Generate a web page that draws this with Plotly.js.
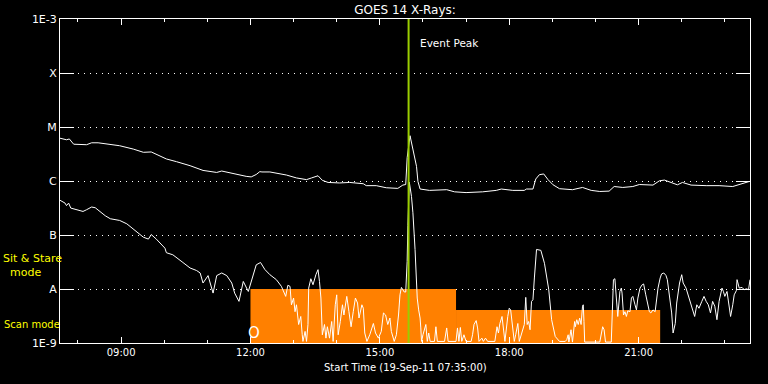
<!DOCTYPE html>
<html>
<head>
<meta charset="utf-8">
<script src="https://cdn.plot.ly/plotly-3.0.1.min.js"></script>
<style>html,body{margin:0;padding:0;background:#000;}#chart{width:768px;height:384px;}</style>
</head>
<body>
<div id="chart"></div>
<script>
var day = '2011-09-19 ';
var rangeStart = '07:35';
var rangeEnd = '23:35';

// GOES 14 long channel (1-8 A), W/m^2
var longTimes = ['07:35','07:44','07:48','07:54','08:12','08:19','08:28','08:40','08:58','09:17',
  '09:31','09:42','09:49','10:03','10:17','10:36','10:54','11:13','11:20','11:36',
  '11:54','12:01','12:08','12:13','12:16','12:27','12:36','12:50','13:04','13:18',
  '13:25','13:34','13:40','13:48','14:04','14:18','14:37','14:41','14:55','15:09',
  '15:25','15:32','15:36','15:38','15:42','15:46','15:51','15:53','15:56','16:09',
  '16:23','16:33','16:44','17:00','17:23','17:42','17:49','18:00','18:05','18:21',
  '18:24','18:33','18:37','18:42','18:48','18:54','19:01','19:10','19:28','19:42',
  '19:54','20:06','20:19','20:26','20:38','20:52','21:01','21:20','21:29','21:36',
  '21:45','21:54','22:01','22:13','22:34','22:52','23:11','23:20','23:34'];
var longFlux = [6.2e-6,5.8e-6,6.0e-6,4.8e-6,4.7e-6,5.1e-6,5.1e-6,4.8e-6,4.5e-6,3.9e-6,
  3.4e-6,3.45e-6,3.1e-6,2.56e-6,2.28e-6,1.92e-6,1.57e-6,1.44e-6,1.53e-6,1.36e-6,
  1.22e-6,1.19e-6,1.32e-6,1.49e-6,1.47e-6,1.47e-6,1.41e-6,1.29e-6,1.14e-6,1.06e-6,
  1.14e-6,1.25e-6,1.03e-6,9.4e-7,9.2e-7,9.4e-7,8.9e-7,8.2e-7,8.2e-7,7.5e-7,
  7.3e-7,8.4e-7,8.6e-7,2.7e-6,6.9e-6,4.1e-6,1.87e-6,9.8e-7,7.1e-7,6.7e-7,
  6.7e-7,6.9e-7,6.3e-7,6.1e-7,6.3e-7,6.7e-7,7.1e-7,6.8e-7,6.7e-7,6.7e-7,
  7.1e-7,7.1e-7,1.09e-6,1.31e-6,1.35e-6,1.06e-6,8.5e-7,7.2e-7,6.9e-7,7.6e-7,
  6.7e-7,6.4e-7,6.5e-7,7.9e-7,7.6e-7,7.9e-7,8.6e-7,8.4e-7,1.01e-6,1.04e-6,
  9.4e-7,8.5e-7,9.4e-7,8.4e-7,8.2e-7,8.2e-7,7.9e-7,8.5e-7,9.8e-7];

// GOES 14 short channel (0.5-4 A), W/m^2
var shortTimes = [
  '07:35','07:42','07:44','07:47','07:50','07:58','08:07','08:12','08:19','08:24',
  '08:38','08:45','08:58','09:08','09:22','09:31','09:38','09:42','09:49','09:54',
  '10:01','10:03','10:12','10:26','10:36','10:45','10:50','10:54','11:01','11:08',
  '11:13','11:20','11:27','11:34','11:38','11:44','11:50','11:57','12:04','12:08',
  '12:14','12:20','12:27','12:36','12:43','12:49','12:52','12:55','12:57','13:00',
  '13:02','13:04','13:07','13:10','13:12','13:13','13:16','13:18','13:20','13:21',
  '13:24','13:27','13:31','13:34','13:36','13:38','13:40','13:43','13:45','13:47',
  '13:50','13:53','13:55','13:58','14:00','14:02','14:05','14:08','14:10','14:14',
  '14:17','14:20','14:23','14:26','14:29','14:31','14:35','14:37','14:39','14:42',
  '14:46','14:51','14:54','14:58','15:02','15:05','15:08','15:11','15:14','15:16',
  '15:20','15:23','15:26','15:28','15:30','15:34','15:36','15:38','15:39','15:41',
  '15:44','15:46','15:49','15:51','15:52','15:54','15:56','15:57','15:58','16:00',
  '16:04','16:06','16:08','16:10','16:16','16:18','16:20','16:30','16:33','16:35','16:46','16:48',
  '16:50','16:52','16:54','16:57','17:00','17:07','17:09','17:11','17:14','17:16','17:18',
  '17:22','17:24','17:27','17:30','17:40','17:43','17:45','17:47','17:50','17:52',
  '17:54','17:58','18:00','18:02','18:05','18:07','18:09','18:12','18:14','18:18',
  '18:21','18:23','18:25','18:27','18:29','18:31','18:33','18:35','18:36','18:38',
  '18:44','18:49','18:55','18:59','19:04','19:10','19:18','19:20','19:22','19:23',
  '19:26','19:28','19:31','19:32','19:34','19:36','19:38','19:40','19:42','19:43',
  '19:44','19:45','20:06','20:08','20:10','20:12','20:14','20:22','20:24','20:25',
  '20:27','20:29','20:31','20:34','20:36','20:37','20:39','20:41','20:43','20:45',
  '20:48','20:50','20:52','20:55','20:57','20:59','21:02','21:05','21:07','21:10',
  '21:12','21:15','21:17','21:20','21:23','21:25','21:27','21:30','21:32','21:35',
  '21:38','21:40','21:43','21:46','21:48','21:51','21:53','21:57','22:00','22:02',
  '22:06','22:09','22:12','22:15','22:18','22:21','22:24','22:28','22:31','22:34',
  '22:37','22:40','22:43','22:46','22:49','22:52','22:56','22:58','23:00','23:03',
  '23:05','23:08','23:11','23:13','23:16','23:17','23:20','23:24','23:27','23:30',
  '23:33','23:35'];
var shortFlux = [
  4.4e-7,3.9e-7,3.5e-7,3.9e-7,3.15e-7,2.94e-7,2.73e-7,2.94e-7,3.3e-7,3.2e-7,
  2.27e-7,2.0e-7,1.86e-7,1.61e-7,1.16e-7,9.1e-8,8.4e-8,1.02e-7,8.4e-8,7.1e-8,
  5.7e-8,4.7e-8,4.3e-8,3.1e-8,2.45e-8,2.2e-8,1.98e-8,1.29e-8,1.77e-8,8.4e-9,
  1.77e-8,1.98e-8,1.77e-8,1.29e-8,8.4e-9,5.9e-9,1.38e-8,9.0e-9,1.98e-8,2.8e-8,
  3.1e-8,2.3e-8,1.84e-8,1.49e-8,1.12e-8,7.3e-9,1.17e-8,1.12e-8,5.1e-9,6.8e-9,
  3.8e-9,5.1e-9,2.2e-9,3.1e-9,1.42e-9,1.07e-9,1.64e-9,1.07e-9,2.2e-9,1.04e-8,
  1.55e-8,1.2e-8,1.84e-8,2.28e-8,1.38e-8,6.8e-9,1.42e-9,2.2e-9,1.23e-9,2.0e-9,
  1.23e-9,2.5e-9,1.07e-9,5.1e-9,7.8e-9,1.42e-9,2.5e-9,5.1e-9,3.3e-9,7.3e-9,
  3.8e-9,2.0e-9,3.8e-9,6.8e-9,5.5e-9,2.9e-9,5.1e-9,4.4e-9,1.53e-9,1.07e-9,
  1.42e-9,2.3e-9,1.53e-9,1.23e-9,1.64e-9,3.6e-9,3.3e-9,2.2e-9,2.9e-9,1.64e-9,
  1.07e-9,1.42e-9,3.3e-9,7.8e-9,1.07e-8,8.8e-9,8.8e-9,3.25e-8,1.5e-7,9.5e-7,
  5.2e-7,2.58e-7,5.4e-8,1.2e-8,6.8e-9,4.1e-9,2.9e-9,1.9e-9,1.07e-9,1.42e-9,
  2.2e-9,1.07e-9,1.53e-9,1.07e-9,1.07e-9,2.0e-9,1.07e-9,1.07e-9,1.9e-9,1.07e-9,1.07e-9,1.9e-9,
  1.07e-9,1.94e-9,1.07e-9,1.42e-9,1.07e-9,1.07e-9,1.42e-9,2.2e-9,2.6e-9,1.9e-9,1.07e-9,
  1.23e-9,1.07e-9,1.23e-9,1.07e-9,1.07e-9,2.0e-9,1.53e-9,2.3e-9,3.1e-9,1.76e-9,
  1.07e-9,3.1e-9,4.4e-9,4.1e-9,1.9e-9,1.07e-9,1.42e-9,2.3e-9,1.07e-9,1.64e-9,
  2.2e-9,7.0e-9,2.2e-9,2.5e-9,1.76e-9,5.9e-9,6.3e-9,1.6e-8,2.6e-8,5.4e-8,
  5.2e-8,3.0e-8,9.7e-9,2.7e-9,1.32e-9,1.07e-9,1.07e-9,1.15e-9,1.42e-9,1.04e-9,
  1.76e-9,1.04e-9,2.5e-9,2.0e-9,2.7e-9,2.2e-9,2.9e-9,2.2e-9,4.8e-9,5.1e-9,
  2.5e-9,1.04e-9,1.04e-9,1.42e-9,2.0e-9,1.76e-9,1.04e-9,1.04e-9,1.04e-8,1.49e-8,
  1.55e-8,6.8e-9,3.1e-9,9.0e-9,1.04e-8,8.4e-9,3.3e-9,3.8e-9,3.1e-9,3.95e-9,
  3.8e-9,6.8e-9,7.3e-9,5.1e-9,4.1e-9,6.8e-9,1.04e-8,1.2e-8,1.24e-8,7.8e-9,
  5.9e-9,3.8e-9,3.6e-9,4.1e-9,3.8e-9,6.8e-9,1.04e-8,1.6e-8,1.9e-8,1.98e-8,
  1.79e-8,1.49e-8,6.8e-9,3.6e-9,1.53e-9,2.3e-9,5.5e-9,1.29e-8,1.84e-8,1.29e-8,
  1.04e-8,7.8e-9,5.9e-9,4.1e-9,3.1e-9,5.1e-9,4.4e-9,5.9e-9,7.3e-9,5.9e-9,
  5.1e-9,3.6e-9,5.9e-9,4.8e-9,2.7e-9,5.9e-9,1.04e-8,9.0e-9,7.3e-9,9.0e-9,
  5.9e-9,3.1e-9,5.1e-9,7.8e-9,9.3e-9,1.49e-8,1.04e-8,1.07e-8,9.7e-9,1.01e-8,
  9.7e-9,1.49e-8];

// Instrument mode periods (orange bars)
var modeStart = ['12:00','16:46'];
var modeEnd = ['16:46','21:30'];
var modeLevel = [1e-8, 4.1e-9];
var modeBase = 1e-9;

var eventPeakTime = '15:40';

var yTickVals = [1e-9,1e-8,1e-7,1e-6,1e-5,1e-4,1e-3];
var yTickText = ['1E-9','A','B','C','M','X','1E-3'];

function full(t){ return day + t; }

var FONT = 'DejaVu Sans';
var traces = [];
for (var i = 0; i < modeStart.length; i++) {
  var s = full(modeStart[i]), e = full(modeEnd[i]);
  traces.push({
    x: [s, s, e, e, s], y: [modeBase, modeLevel[i], modeLevel[i], modeBase, modeBase],
    type: 'scatter', mode: 'lines', fill: 'toself', fillcolor: '#ff8000',
    line: {width: 0, color: '#ff8000'}, hoverinfo: 'skip'
  });
}
traces.push({x: longTimes.map(full), y: longFlux, type: 'scatter', mode: 'lines',
  line: {color: '#ffffff', width: 1}});
traces.push({x: shortTimes.map(full), y: shortFlux, type: 'scatter', mode: 'lines',
  line: {color: '#ffffff', width: 1}});
traces.push({x: [full(eventPeakTime), full(eventPeakTime)], y: [1e-9, 1e-3], type: 'scatter',
  mode: 'lines', line: {color: '#9acd00', width: 2}});

var layout = {
  width: 768, height: 384,
  paper_bgcolor: '#000', plot_bgcolor: '#000',
  margin: {l: 60, r: 18, t: 19, b: 41},
  showlegend: false,
  font: {family: FONT, color: '#fff'},
  title: {text: 'GOES 14 X-Rays:', font: {family: FONT, size: 12, color: '#fff'},
    x: 0.5, xref: 'paper', y: 0.974, yanchor: 'middle'},
  xaxis: {
    type: 'date', range: [full(rangeStart), full(rangeEnd)],
    showline: true, linecolor: '#fff', linewidth: 1, mirror: 'ticks',
    ticks: 'inside', ticklen: 6, tickcolor: '#fff', tickwidth: 1,
    tick0: full('09:00'), dtick: 3 * 3600000, tickformat: '%H:%M',
    tickfont: {family: FONT, size: 10, color: '#fff'},
    showgrid: false, zeroline: false,
    minor: {dtick: 3600000, ticks: 'inside', ticklen: 3, tickcolor: '#fff', showgrid: false}
  },
  yaxis: {
    type: 'log', range: [-9, -3],
    showline: true, linecolor: '#fff', linewidth: 1, mirror: 'ticks',
    ticks: 'inside', ticklen: 14, tickcolor: '#fff', tickwidth: 1,
    tickmode: 'array', tickvals: yTickVals, ticktext: yTickText,
    tickfont: {family: FONT, size: 11, color: '#ffffff'},
    showgrid: true, gridcolor: '#fff', gridwidth: 1, griddash: '1px,5px',
    zeroline: false
  },
  annotations: [
    {text: 'Start Time (19-Sep-11 07:35:00)', xref: 'paper', yref: 'paper', x: 0.5, y: -0.077,
      xanchor: 'center', yanchor: 'middle', showarrow: false, font: {family: FONT, size: 10, color: '#fff'}},
    {text: 'Sit &amp; Stare<br>&nbsp;&nbsp;mode', xref: 'paper', yref: 'paper', x: -0.0841, y: 0.2407,
      xanchor: 'left', yanchor: 'middle', align: 'left', showarrow: false, borderpad: 0,
      font: {family: FONT, size: 11, color: '#ffff00'}},
    {text: 'Scan mode', xref: 'paper', yref: 'paper', x: -0.0841, y: 0.0586,
      xanchor: 'left', yanchor: 'middle', showarrow: false, font: {family: FONT, size: 10, color: '#ffff00'}},
    {text: 'Event Peak', xref: 'x', yref: 'paper', x: full(eventPeakTime), xshift: 9, y: 0.927,
      xanchor: 'left', yanchor: 'middle', showarrow: false, font: {family: FONT, size: 10.5, color: '#fff'}},
    {text: 'O', xref: 'x', yref: 'paper', x: full(modeStart[0]), xshift: 4, y: 0.031,
      xanchor: 'center', yanchor: 'middle', showarrow: false, font: {family: FONT, size: 15, color: '#fff'}}
  ]
};

Plotly.newPlot('chart', traces, layout, {displayModeBar: false, staticPlot: true});
</script>
</body>
</html>
